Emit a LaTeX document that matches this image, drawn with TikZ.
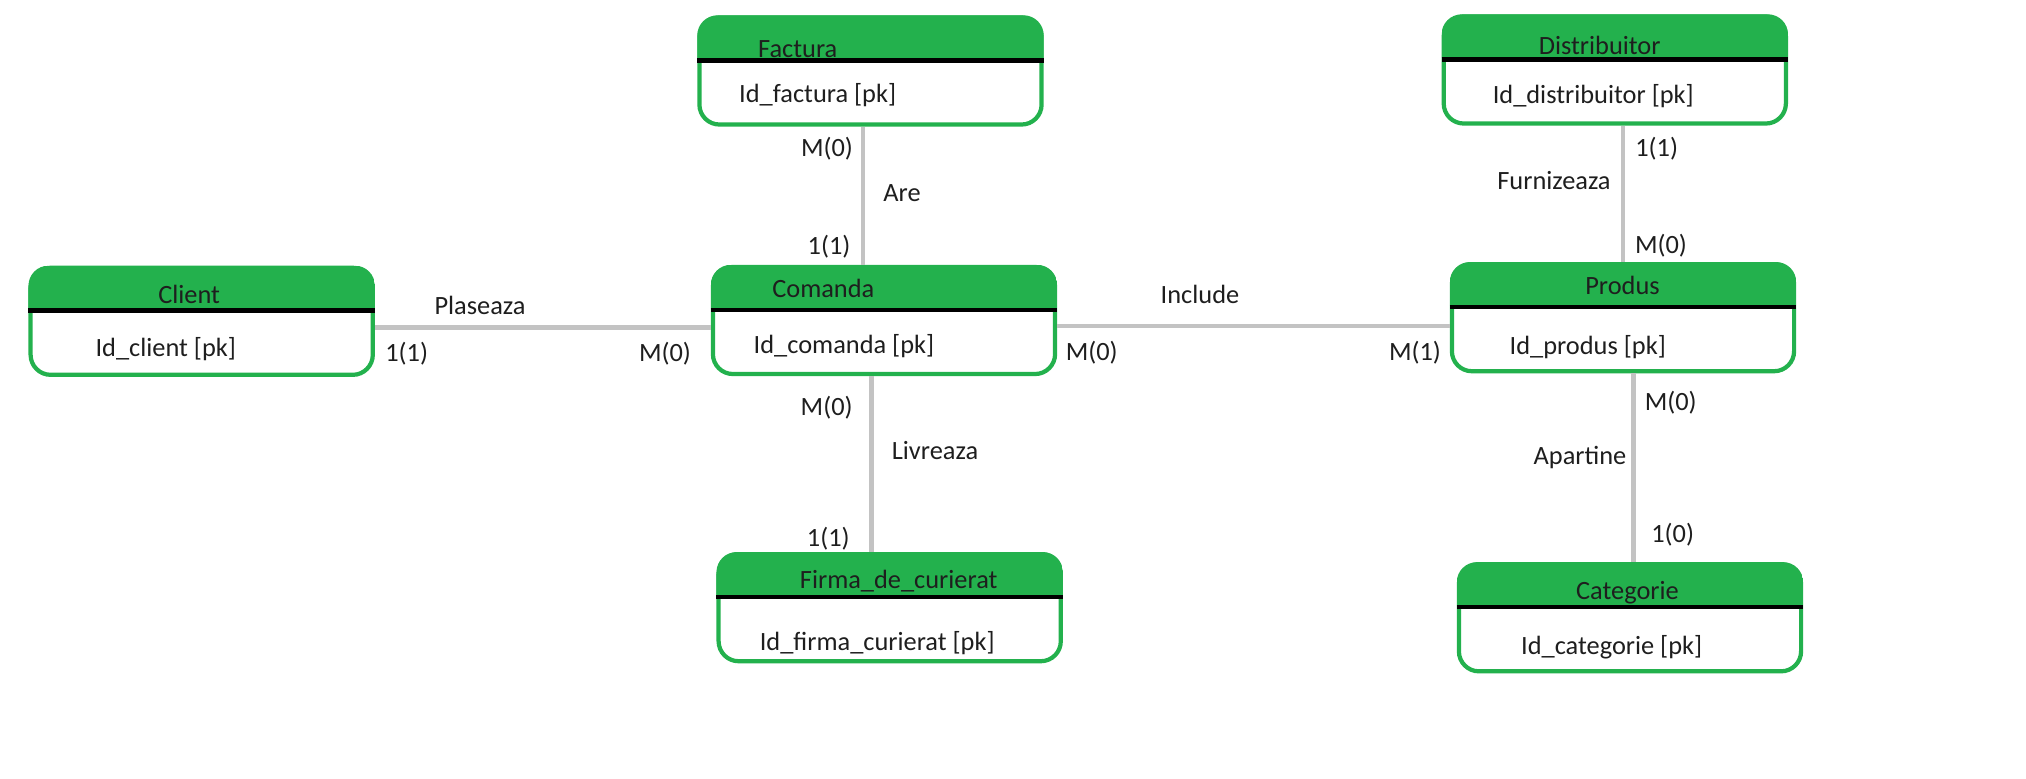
\documentclass[tikz,border=0pt]{standalone}
\usepackage{fontspec}
\setmainfont{Carlito}
\usetikzlibrary{positioning}
\definecolor{erdgreen}{RGB}{35,177,77}
\definecolor{linkgray}{RGB}{195,195,195}
\definecolor{textdark}{RGB}{30,30,30}
\tikzset {
  % entity box with green header
  entity/.style = {draw=erdgreen, line width=1.2pt, rounded corners=0.2cm,
    minimum width=3.42cm, minimum height=1.07cm, inner sep=0pt},
  header/.style = {fill=erdgreen},
  sepline/.style = {black, line width=1.3pt},
  % texts
  txt/.style = {anchor=base, inner sep=0pt, text=textdark, font=\fontsize{7.5}{9}\selectfont},
  card/.style = {txt},
  rel/.style = {txt},
  % relationship lines
  link/.style = {draw=linkgray, line width=1.3pt},
}
% name, centre, title position, title, key position, key
\newcommand{\entitate}[6]{%
  \node[entity] (#1) at (#2) {};
  \begin{scope}
    \clip[rounded corners=0.2cm] (#1.north west) rectangle (#1.south east);
    \fill[header] (#1.north west) rectangle ([yshift=-0.45cm]#1.north east);
  \end{scope}
  \draw[sepline] ([yshift=-0.45cm]#1.north west) -- ([yshift=-0.45cm]#1.north east);
  \node[txt] (#1-title) at (#3) {#4};
  \node[txt] (#1-key) at (#5) {#6};
}

\begin{document}
\begin{tikzpicture}[x=0.01cm, y=-0.01cm]
  \useasboundingbox (0,0) rectangle (2026,779);

  \entitate{client}{201.7,321.3}{189.2,303.3}{Client}{165.8,356.7}{Id\_client [pk]}
  \entitate{factura}{870.5,71}{797.7,57.3}{Factura}{817.7,102.7}{Id\_factura [pk]}
  \entitate{comanda}{884,320.5}{823.3,297.3}{Comanda}{844,353.3}{Id\_comanda [pk]}
  \entitate{distribuitor}{1614.8,70}{1599.7,55}{Distribuitor}{1593.3,103.3}{Id\_distribuitor [pk]}
  \entitate{produs}{1623,317.7}{1622.5,294.3}{Produs}{1587.8,354.3}{Id\_produs [pk]}
  \entitate{firma}{889.7,607.7}{898.7,588.3}{Firma\_de\_curierat}{877.2,650}{Id\_firma\_curierat [pk]}
  \entitate{categorie}{1630,617.8}{1627.5,599}{Categorie}{1611.7,654}{Id\_categorie [pk]}

  % Client - Comanda
  \coordinate (plaseaza-a) at ([yshift=-0.06cm]client.east);
  \draw[link] (plaseaza-a) -- (plaseaza-a -| comanda.west);
  \node[rel] (plaseaza) at (480,315) {Plaseaza};
  \node[card] (plaseaza-c1) at (406.7,362) {1(1)};
  \node[card] (plaseaza-c2) at (665,362) {M(0)};

  % Factura - Comanda
  \coordinate (are-a) at ([xshift=-0.075cm]factura.south);
  \draw[link] (are-a) -- (are-a |- comanda.north);
  \node[rel] (are) at (902,202) {Are};
  \node[card] (are-c1) at (827,157) {M(0)};
  \node[card] (are-c2) at (829,255) {1(1)};

  % Comanda - Produs
  \coordinate (include-a) at ([yshift=-0.055cm]comanda.east);
  \draw[link] (include-a) -- (include-a -| produs.west);
  \node[rel] (include) at (1200,303.5) {Include};
  \node[card] (include-c1) at (1091.7,360.3) {M(0)};
  \node[card] (include-c2) at (1415,360.3) {M(1)};

  % Distribuitor - Produs
  \coordinate (furnizeaza-a) at ([xshift=0.08cm]distribuitor.south);
  \draw[link] (furnizeaza-a) -- (furnizeaza-a |- produs.north);
  \node[rel] (furnizeaza) at (1554,189.5) {Furnizeaza};
  \node[card] (furnizeaza-c1) at (1656.7,157) {1(1)};
  \node[card] (furnizeaza-c2) at (1661,253.7) {M(0)};

  % Comanda - Firma_de_curierat
  \coordinate (livreaza-a) at ([xshift=-0.127cm]comanda.south);
  \draw[link] (livreaza-a) -- (livreaza-a |- firma.north);
  \node[rel] (livreaza) at (935,459) {Livreaza};
  \node[card] (livreaza-c1) at (826.7,415.3) {M(0)};
  \node[card] (livreaza-c2) at (828.3,546.3) {1(1)};

  % Produs - Categorie
  \coordinate (apartine-a) at ([xshift=0.103cm]produs.south);
  \draw[link] (apartine-a) -- (apartine-a |- categorie.north);
  \node[rel] (apartine) at (1580,465) {Apartine};
  \node[card] (apartine-c1) at (1670.7,410.3) {M(0)};
  \node[card] (apartine-c2) at (1672.7,542) {1(0)};
\end{tikzpicture}
\end{document}
